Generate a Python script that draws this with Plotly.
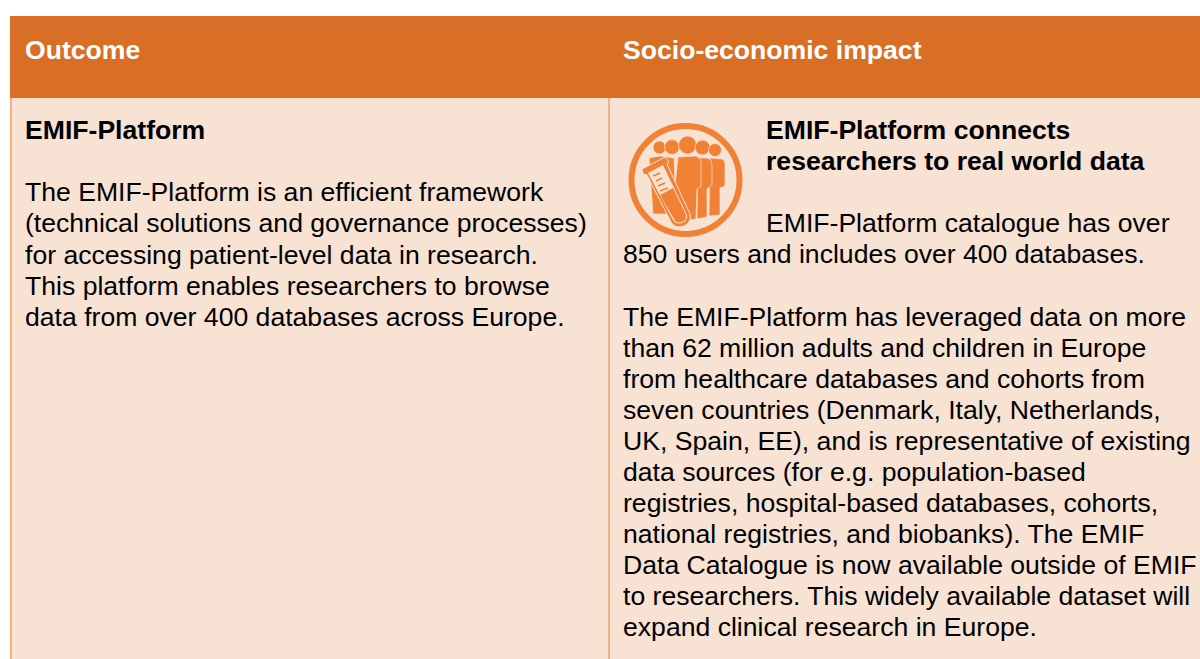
import plotly.graph_objects as go

header_labels = ["Outcome", "Socio-economic impact"]
left_title = "EMIF-Platform"
left_lines = [
    "The EMIF-Platform is an efficient framework",
    "(technical solutions and governance processes)",
    "for accessing patient-level data in research.",
    "This platform enables researchers to browse",
    "data from over 400 databases across Europe.",
]
left_line_y = [192, 223, 255, 286, 317]
right_title = ["EMIF-Platform connects", "researchers to real world data"]
right_title_y = [130, 161]
right_intro = [("EMIF-Platform catalogue has over", 766, 223), ("850 users and includes over 400 databases.", 623, 254)]
right_lines = [
    "The EMIF-Platform has leveraged data on more",
    "than 62 million adults and children in Europe",
    "from healthcare databases and cohorts from",
    "seven countries (Denmark, Italy, Netherlands,",
    "UK, Spain, EE), and is representative of existing",
    "data sources (for e.g. population-based",
    "registries, hospital-based databases, cohorts,",
    "national registries, and biobanks). The EMIF",
    "Data Catalogue is now available outside of EMIF",
    "to researchers. This widely available dataset will",
    "expand clinical research in Europe.",
]
right_line_y = [317, 348, 379, 410, 441, 472, 503, 534, 565, 596, 627]

ORANGE = "#D96F27"
PEACH = "#F7E2D4"
BORDER = "#F4B183"
ICON = "#F08135"
FONT = "Liberation Sans"
SIZE = 26.6

fig = go.Figure()
shapes = []

def rect(x0, y0, x1, y1, color):
    shapes.append(dict(type="rect", xref="x", yref="y", x0=x0, y0=y0, x1=x1, y1=y1,
                       fillcolor=color, line_width=0, layer="below"))

rect(10, 98, 1200, 659, PEACH)
rect(10, 16, 1200, 98, ORANGE)
rect(10, 98, 12, 659, BORDER)
rect(608, 98, 610, 659, BORDER)

# icon
shapes.append(dict(type="circle", xref="x", yref="y", x0=631.5, y0=126, x1=739.5, y1=234,
                   fillcolor="rgba(0,0,0,0)", line=dict(color=ICON, width=6)))
heads = [(659.5, 147.5, 6.5), (672, 147, 7.5), (687.5, 145, 9), (702.5, 147.5, 7.5), (715, 150, 6.5)]
for cx, cy, r in heads:
    shapes.append(dict(type="circle", xref="x", yref="y", x0=cx - r, y0=cy - r, x1=cx + r, y1=cy + r,
                       fillcolor=ICON, line=dict(color=PEACH, width=0.7)))
bodies = [
    "M 649 158 L 660 156 L 674 158 L 676 212 L 665 214 L 653 214 Z",
    "M 710 158 L 722 159 Q 725 160 725 164 L 725 186 L 720 188 L 720 215 L 709 216 Z",
    "M 698 158 L 708 158 Q 712 160 712 165 L 712 185 L 707 189 L 707 217 L 697 219 Z",
    "M 678 157 L 696 156 Q 701 158 701 164 L 701 186 L 697 189 L 696 219 L 682 221 L 672 215 Z",
]
for p in bodies:
    shapes.append(dict(type="path", xref="x", yref="y", path=p, fillcolor=ICON,
                       line=dict(color=PEACH, width=0.7)))
tube_outer = "M 642 169 L 665 157 L 669 162 L 667 164 L 690 214 Q 692 222 684 226 Q 675 229 671 222 L 647 175 L 643 174 Z"
tube_body = "M 648 173 L 663 165 L 687 215 Q 688 220 682 223 Q 676 225 673 220 Z"
tube_liquid = "M 660 195 L 673 188 L 686 215 Q 687 220 682 222 Q 676 224 674 219 Z"
shapes.append(dict(type="path", xref="x", yref="y", path=tube_outer, fillcolor=ICON,
                   line=dict(color=PEACH, width=1)))
shapes.append(dict(type="path", xref="x", yref="y", path=tube_body, fillcolor=PEACH, line_width=0))
shapes.append(dict(type="path", xref="x", yref="y", path=tube_liquid, fillcolor=ICON, line_width=0))
for x0, y0, x1 in [(653, 176, 660), (656, 181, 662), (658, 186, 665), (660, 191, 668)]:
    shapes.append(dict(type="line", xref="x", yref="y", x0=x0, y0=y0, x1=x1, y1=y0 - 3,
                       line=dict(color=ICON, width=1.5)))

annotations = []

def text(s, x, y, bold=False, color="#000000"):
    annotations.append(dict(text=f"<b>{s}</b>" if bold else s, x=x, y=y, xref="x", yref="y",
                            xanchor="left", yanchor="middle", showarrow=False, align="left",
                            borderpad=0, borderwidth=0,
                            font=dict(family=FONT, size=SIZE, color=color)))

text(header_labels[0], 25, 50, True, "#FFFFFF")
text(header_labels[1], 623, 50, True, "#FFFFFF")
text(left_title, 25, 130, True)
for s, y in zip(left_lines, left_line_y):
    text(s, 25, y)
for s, y in zip(right_title, right_title_y):
    text(s, 766, y, True)
for s, x, y in right_intro:
    text(s, x, y)
for s, y in zip(right_lines, right_line_y):
    text(s, 623, y)

fig.update_layout(
    width=1200, height=659, margin=dict(l=0, r=0, t=0, b=0),
    paper_bgcolor="#FFFFFF", plot_bgcolor="#FFFFFF",
    xaxis=dict(range=[0, 1200], visible=False, fixedrange=True),
    yaxis=dict(range=[659, 0], visible=False, fixedrange=True),
    shapes=shapes, annotations=annotations, showlegend=False,
)
fig.write_html("out.html", config=dict(displayModeBar=False),
               post_script="document.body.style.margin='0';document.body.style.overflow='hidden';")
